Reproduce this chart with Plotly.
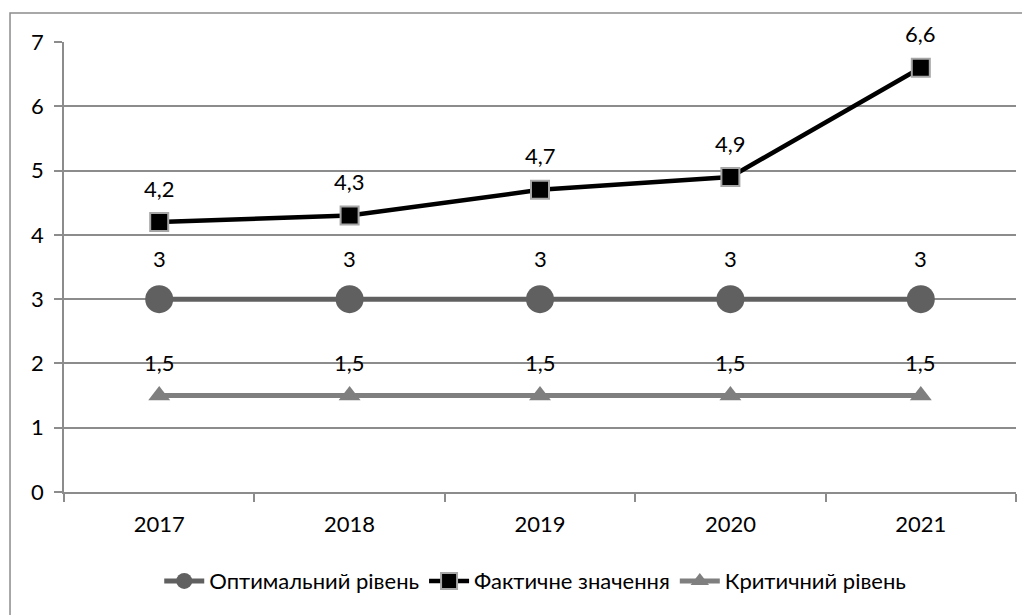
import plotly.graph_objects as go

years = ["2017", "2018", "2019", "2020", "2021"]
optimal = [3, 3, 3, 3, 3]
actual = [4.2, 4.3, 4.7, 4.9, 6.6]
critical = [1.5, 1.5, 1.5, 1.5, 1.5]
names = ["Оптимальний рівень", "Фактичне значення", "Критичний рівень"]

def fmt(v):
    return ("%g" % v).replace(".", ",")

FONT = "Lato"
FS = 22
fig = go.Figure()
fig.add_trace(go.Scatter(x=years, y=optimal, name=names[0], mode="lines+markers",
                         line=dict(color="#606060", width=5),
                         marker=dict(symbol="circle", size=28, color="#606060")))
fig.add_trace(go.Scatter(x=years, y=actual, name=names[1], mode="lines+markers",
                         line=dict(color="#000000", width=4.5),
                         marker=dict(symbol="square", size=18, color="#000000",
                                     line=dict(color="#a6a6a6", width=2))))
fig.add_trace(go.Scatter(x=years, y=critical, name=names[2], mode="lines+markers",
                         line=dict(color="#7f7f7f", width=5),
                         marker=dict(symbol="triangle-up", size=19, color="#7f7f7f")))

anns = []
for series, shift in ((actual, 34), (optimal, 41), (critical, 33)):
    for i, v in enumerate(series):
        anns.append(dict(x=i, y=v, xref="x", yref="y", text=fmt(v), showarrow=False,
                         yshift=shift, font=dict(family=FONT, size=FS, color="#000000")))

fig.update_layout(
    width=1030, height=615,
    margin=dict(l=56, r=22, t=34, b=131),
    paper_bgcolor="white", plot_bgcolor="white",
    font=dict(family=FONT, size=FS, color="#000000"),
    annotations=anns,
    showlegend=True,
    legend=dict(orientation="h", x=0.495, xanchor="center", y=-0.198, yanchor="middle",
                font=dict(family=FONT, size=FS, color="#000000"), itemwidth=40,
                traceorder="normal"),
    shapes=[dict(type="rect", xref="paper", yref="paper", x0=-0.0567, x1=1.05,
                 y0=-0.35, y1=1.0644, line=dict(color="#8c8c8c", width=1.5),
                 fillcolor="rgba(0,0,0,0)", layer="below")],
)
fig.update_xaxes(type="category", range=[-0.5, 4.5], showgrid=False, zeroline=False,
                 showline=True, linecolor="#8c8c8c", linewidth=1.5, automargin=False,
                 ticks="outside", tickson="boundaries", ticklen=8, tickcolor="#8c8c8c",
                 tickwidth=1.5, ticklabelstandoff=12,
                 tickfont=dict(family=FONT, size=FS, color="#000000"))
fig.update_yaxes(range=[0, 7], dtick=1, showgrid=True, gridcolor="#8c8c8c", gridwidth=1.5,
                 zeroline=False, showline=True, linecolor="#8c8c8c", linewidth=1.5,
                 automargin=False,
                 ticks="outside", ticklen=8, tickcolor="#8c8c8c", tickwidth=1.5,
                 ticklabelstandoff=6,
                 tickfont=dict(family=FONT, size=FS, color="#000000"))

fig.write_html("out.html")
